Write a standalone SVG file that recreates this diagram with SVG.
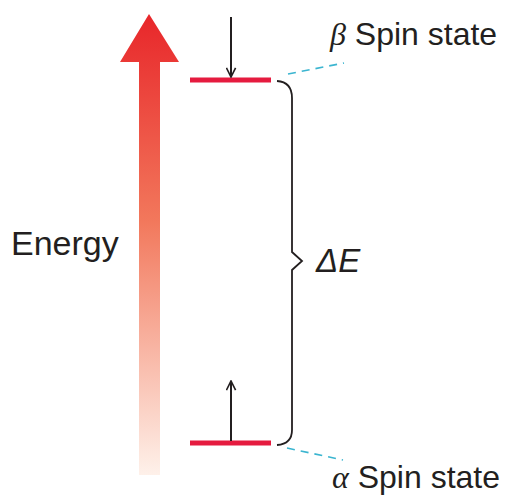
<svg xmlns="http://www.w3.org/2000/svg" width="510" height="495" viewBox="0 0 510 495">
<style>
.lvl{stroke:#E51B3F;stroke-width:5;fill:none}
.spin{stroke:#231F20;stroke-width:2;fill:none}
.brace{stroke:#231F20;stroke-width:1.8;fill:none}
.lead{stroke:#3BB5D0;stroke-width:1.6;stroke-dasharray:8 6;fill:none}
.lbl{font-family:"Liberation Sans",Arial,sans-serif;fill:#231F20}
.greek{font-family:"Liberation Serif","Times New Roman",serif;font-style:italic}
</style>
<defs>
<linearGradient id="eg" x1="0" y1="14" x2="0" y2="475" gradientUnits="userSpaceOnUse">
<stop offset="0" stop-color="#E8262A"/>
<stop offset="0.45" stop-color="#F2785C"/>
<stop offset="1" stop-color="#FEF1EA"/>
</linearGradient>
<marker id="vh" viewBox="0 0 12 12" refX="11" refY="6" markerWidth="11" markerHeight="11" markerUnits="userSpaceOnUse" orient="auto">
<path d="M1,1 L11,6 L1,11" fill="none" stroke="#231F20" stroke-width="1.8"/>
</marker>
</defs>
<g id="energy-axis">
<path d="M149,14 L179,62 L160,62 L160,475 L139,475 L139,62 L120,62 Z" fill="url(#eg)"/>
<text class="lbl" x="11" y="255" font-size="34">Energy</text>
</g>
<g id="beta-level">
<line class="lvl" x1="190" y1="80" x2="271" y2="80"/>
<line class="spin" x1="231" y1="17" x2="231" y2="77" marker-end="url(#vh)"/>
<text class="lbl" x="330" y="45" font-size="32"><tspan class="greek">β</tspan> Spin state</text>
</g>
<g id="alpha-level">
<line class="lvl" x1="190" y1="443" x2="271" y2="443"/>
<line class="spin" x1="231" y1="441" x2="231" y2="381" marker-end="url(#vh)"/>
<text class="lbl" x="332" y="488" font-size="32"><tspan class="greek">α</tspan> Spin state</text>
</g>
<g id="delta-e">
<path class="brace" d="M277,81 Q292,82 292,98 L292,252 L302,261 L292,270 L292,430 Q292,444 277,445"/>
<text class="lbl" x="316" y="272" font-size="33" font-style="italic">ΔE</text>
</g>
<g id="connectors">
<line class="lead" x1="288" y1="74" x2="344" y2="63"/>
<line class="lead" x1="287" y1="448" x2="343" y2="460"/>
</g>
</svg>
